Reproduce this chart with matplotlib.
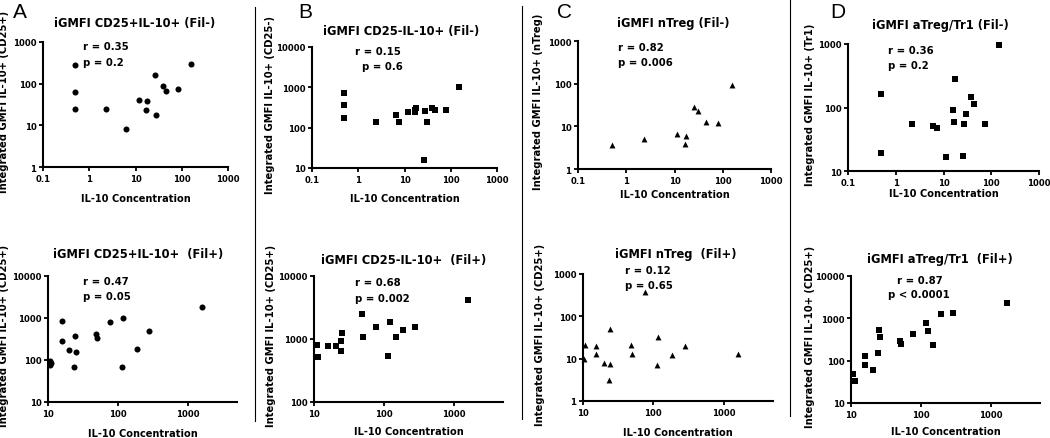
import matplotlib
matplotlib.use("Agg")
import matplotlib.pyplot as plt
from matplotlib.lines import Line2D
from matplotlib.ticker import FixedLocator, FuncFormatter, NullLocator

plt.rcParams['font.family'] = ['DejaVu Sans']
plt.rcParams['font.weight'] = 'bold'

W, H = 1050, 439

# ---- data ----
# A: CD25+IL-10+
a_neg_x = [0.5, 0.5, 0.5, 2.3, 6.1, 12, 17.7, 17.1, 26, 28, 39, 46, 83, 160]
a_neg_y = [275, 63, 25, 25, 8.2, 40, 38, 23, 158, 18, 88, 68, 74, 290]
a_pos_x = [10.6, 10.8, 11.1, 15.8, 16, 20.2, 24, 24.8, 23.5, 48.5, 50, 76, 113, 118, 185, 274, 1585]
a_pos_y = [96, 77, 87, 838, 283, 169, 379, 151, 67, 408, 333, 822, 70, 1023, 182, 491, 1780]

# B: CD25-IL-10+
b_neg_x = [0.5, 0.5, 0.5, 2.4, 6.4, 7.6, 12.2, 16.5, 17.1, 18, 28, 31, 26.5, 40, 45, 80, 152]
b_neg_y = [714, 361, 172, 140, 208, 140, 247, 250, 277, 300, 261, 135, 16, 300, 270, 270, 1000]
b_pos_x = [10.9, 10.6, 11.5, 16, 20.9, 24.6, 24.6, 25.4, 49, 50.6, 78, 115, 120, 147, 187, 277, 1602]
b_pos_y = [801, 509, 509, 783, 764, 940, 644, 1247, 2506, 1063, 1574, 535, 1893, 1063, 1393, 1535, 4090]

# C: nTreg
c_neg_x = [0.5, 2.3, 11.2, 17.2, 16.4, 25, 30, 45, 78, 152]
c_neg_y = [3.7, 5.0, 6.5, 5.9, 3.9, 28, 23, 12.7, 11.9, 95]
c_pos_x = [10.3, 10.8, 15.5, 15.4, 19.6, 23.9, 24.1, 23.4, 47.4, 49, 75, 113, 118, 183, 277, 1614]
c_pos_y = [9.7, 20.8, 20, 13.2, 7.9, 7.5, 49, 3.2, 20.8, 13.2, 382, 6.9, 33, 12.1, 19.7, 13.2]

# D: aTreg/Tr1
d_neg_x = [0.5, 0.5, 2.2, 6.1, 7.4, 11.2, 15.5, 16.5, 17.3, 25, 26.7, 29.5, 37, 43, 75, 145]
d_neg_y = [162, 19, 54, 51, 48, 16.6, 90, 59, 280, 17, 54, 79, 149, 113, 54, 960]
d_pos_x = [10.7, 10.6, 11.4, 16, 15.6, 20.6, 24.3, 24.8, 25.6, 49.4, 51, 78, 116, 124, 149, 190, 284, 1671]
d_pos_y = [49, 33, 33, 132, 77, 61, 150, 526, 353, 284, 245, 432, 770, 499, 237, 1236, 1356, 2337]

stats_r = ['r = 0.35', 'r = 0.47', 'r = 0.15', 'r = 0.68',
           'r = 0.82', 'r = 0.12', 'r = 0.36', 'r = 0.87']
stats_p = ['p = 0.2', 'p = 0.05', 'p = 0.6', 'p = 0.002',
           'p = 0.006', 'p = 0.65', 'p = 0.2', 'p < 0.0001']
titles = ['iGMFI CD25+IL-10+ (Fil-)', 'iGMFI CD25+IL-10+  (Fil+)',
          'iGMFI CD25-IL-10+ (Fil-)', 'iGMFI CD25-IL-10+  (Fil+)',
          'iGMFI nTreg (Fil-)', 'iGMFI nTreg  (Fil+)',
          'iGMFI aTreg/Tr1 (Fil-)', 'iGMFI aTreg/Tr1  (Fil+)']
ylabels = ['Integrated GMFI IL-10+ (CD25+)', 'Integrated GMFI IL-10+ (CD25+)',
           'Integrated GMFI IL-10+ (CD25-)', 'Integrated GMFI IL-10+ (CD25+)',
           'Integrated GMFI IL-10+ (nTreg)', 'Integrated GMFI IL-10+ (CD25+)',
           'Integrated GMFI IL-10+ (Tr1)', 'Integrated GMFI IL-10+ (CD25+)']
xlabel = 'IL-10 Concentration'

# ---- layout, in pixels ----
panels = [
    # box (l, t, r, b), limits, data, marker, title xy, ylabel x, xlabel y, r xy, p xy
    dict(box=(43, 43, 228, 168), xlim=(0.1, 1000), ylim=(1, 1000), xy=(a_neg_x, a_neg_y), m='o',
         t=(135, 24), yl=4, xl=199, r=(83, 47), p=(83, 63)),
    dict(box=(48, 277, 237, 403), xlim=(10, 5000), ylim=(10, 10000), xy=(a_pos_x, a_pos_y), m='o',
         t=(138, 255), yl=4, xl=434, r=(83, 282), p=(83, 297)),
    dict(box=(312, 48, 497, 169), xlim=(0.1, 1000), ylim=(10, 10000), xy=(b_neg_x, b_neg_y), m='s',
         t=(401, 31), yl=270, xl=199, r=(355, 52), p=(362, 67)),
    dict(box=(314, 277, 503, 403), xlim=(10, 5000), ylim=(100, 10000), xy=(b_pos_x, b_pos_y), m='s',
         t=(404, 261), yl=271, xl=432, r=(355, 283), p=(355, 299)),
    dict(box=(578, 42, 771, 170), xlim=(0.1, 1000), ylim=(1, 1000), xy=(c_neg_x, c_neg_y), m='^',
         t=(673, 23), yl=538, xl=195, r=(618, 48), p=(618, 63)),
    dict(box=(583, 275, 773, 402), xlim=(10, 5000), ylim=(1, 1000), xy=(c_pos_x, c_pos_y), m='^',
         t=(676, 255), yl=540, xl=433, r=(625, 271), p=(625, 286)),
    dict(box=(848, 45, 1039, 172), xlim=(0.1, 1000), ylim=(10, 1000), xy=(d_neg_x, d_neg_y), m='s',
         t=(940, 25), yl=810, xl=194, r=(888, 51), p=(888, 66)),
    dict(box=(851, 277, 1040, 404), xlim=(10, 5000), ylim=(10, 10000), xy=(d_pos_x, d_pos_y), m='s',
         t=(940, 260), yl=810, xl=432, r=(897, 281), p=(888, 295)),
]
marker_size = {'o': 19, 's': 17, '^': 18}

fig = plt.figure(figsize=(W / 100, H / 100), dpi=100)


def fx(px):
    return px / W


def fy(py):
    return 1 - py / H


fmt = FuncFormatter(lambda v, pos: f'{v:g}')
decades = [0.1, 1, 10, 100, 1000, 10000]

for i, pn in enumerate(panels):
    l, t, r, b = pn['box']
    ax = fig.add_axes([fx(l), fy(b), (r - l) / W, (b - t) / H])
    x, y = pn['xy']
    ax.scatter(x, y, marker=pn['m'], s=marker_size[pn['m']], color='black',
               linewidths=0, clip_on=False, zorder=3)
    ax.set_xscale('log')
    ax.set_yscale('log')
    ax.set_xlim(*pn['xlim'])
    ax.set_ylim(*pn['ylim'])
    ax.xaxis.set_major_locator(FixedLocator([d for d in decades if pn['xlim'][0] <= d <= pn['xlim'][1]]))
    ax.yaxis.set_major_locator(FixedLocator([d for d in decades if pn['ylim'][0] <= d <= pn['ylim'][1]]))
    ax.xaxis.set_minor_locator(NullLocator())
    ax.yaxis.set_minor_locator(NullLocator())
    ax.xaxis.set_major_formatter(fmt)
    ax.yaxis.set_major_formatter(fmt)
    for side in ('top', 'right'):
        ax.spines[side].set_visible(False)
    for side in ('left', 'bottom'):
        ax.spines[side].set_linewidth(1.5)
    ax.tick_params(length=3.2, width=1.3, labelsize=6.1, pad=1.5)
    ax.set_facecolor('none')

    cx = (l + r) / 2
    cy = (t + b) / 2
    fig.text(fx(pn['t'][0]), fy(pn['t'][1]), titles[i], ha='center', va='center', fontsize=8.3)
    fig.text(fx(pn['yl']), fy(cy - 4), ylabels[i], rotation=90, ha='center', va='center', fontsize=7.2)
    fig.text(fx(cx), fy(pn['xl']), xlabel, ha='center', va='center', fontsize=7.1)
    fig.text(fx(pn['r'][0]), fy(pn['r'][1]), stats_r[i], ha='left', va='center', fontsize=7.3)
    fig.text(fx(pn['p'][0]), fy(pn['p'][1]), stats_p[i], ha='left', va='center', fontsize=7.3)

# panel letters
for letter, (lx, ly) in zip('ABCD', [(20, 12), (305, 12), (565, 13), (838, 12)]):
    fig.text(fx(lx), fy(ly), letter, ha='center', va='center', fontsize=15,
             fontweight='normal', family=['Liberation Sans', 'DejaVu Sans'])

# column separators
for sx, top, bot in [(255, 8, 422), (522, 7, 420), (790, 0, 417)]:
    fig.add_artist(Line2D([fx(sx), fx(sx)], [fy(top), fy(bot)], color='black', linewidth=0.8))

fig.savefig('out.png', dpi=100)
